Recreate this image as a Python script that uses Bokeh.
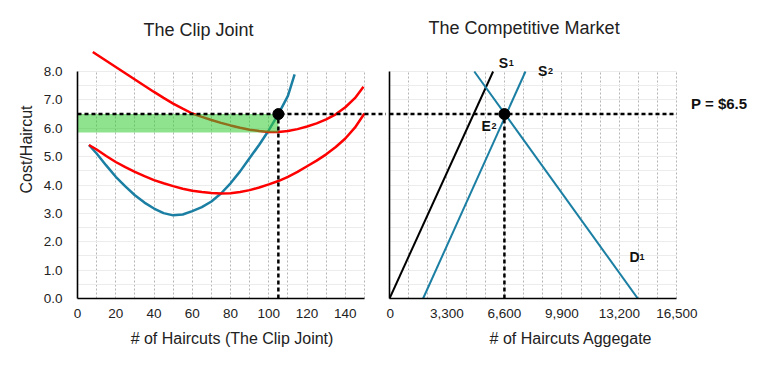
from bokeh.plotting import figure
from bokeh.models import Range1d, FixedTicker, NumeralTickFormatter
from bokeh.layouts import row
from bokeh.embed import file_html
from bokeh.resources import INLINE
from bokeh.core.properties import value

FONT = "Liberation Sans"

# ---------------- data ----------------
# The Clip Joint (firm): marginal cost (blue), two average-cost curves (red)
mc_x = [6, 10, 15, 20, 25, 30, 35, 40, 45, 50, 55, 60, 65, 70, 75, 80, 85, 90,
        95, 100, 105, 110, 113.5]
mc_y = [5.41, 5.11, 4.69, 4.29, 3.95, 3.64, 3.38, 3.17, 3.01, 2.93, 2.96, 3.08,
        3.22, 3.42, 3.70, 4.06, 4.48, 4.95, 5.42, 5.93, 6.50, 7.14, 7.90]

avc_x = [6, 10, 15, 20, 25, 30, 35, 40, 45, 50, 55, 60, 65, 70, 75, 80, 85, 90,
         95, 100, 105, 110, 115, 120, 125, 130, 135, 140, 145, 150]
avc_y = [5.41, 5.25, 5.02, 4.81, 4.63, 4.46, 4.31, 4.17, 4.06, 3.96, 3.87, 3.80,
         3.75, 3.72, 3.70, 3.71, 3.75, 3.82, 3.91, 4.02, 4.14, 4.29, 4.46, 4.66,
         4.86, 5.08, 5.34, 5.64, 6.02, 6.52]

atc_x = [8, 10, 15, 20, 25, 30, 35, 40, 45, 50, 55, 60, 65, 70, 75, 80, 85, 90,
         95, 100, 105, 110, 115, 120, 125, 130, 135, 140, 145, 149.5]
atc_y = [8.69, 8.60, 8.38, 8.16, 7.94, 7.72, 7.50, 7.28, 7.07, 6.87, 6.69, 6.52,
         6.40, 6.29, 6.19, 6.10, 6.02, 5.95, 5.90, 5.87, 5.87, 5.90, 5.97, 6.06,
         6.17, 6.31, 6.49, 6.74, 7.06, 7.46]

price = 6.5
firm_q = 105
atc_at_q = 5.85
market_q = 6600

clip_ticks = [0, 20, 40, 60, 80, 100, 120, 140]
clip_grid_x = [10, 20, 30, 40, 50, 60, 70, 80, 90, 100, 110, 120, 130, 140, 150]
cost_ticks = [0, 1, 2, 3, 4, 5, 6, 7, 8]
cost_grid = [0.5, 1, 1.5, 2, 2.5, 3, 3.5, 4, 4.5, 5, 5.5, 6, 6.5, 7, 7.5, 8]

# The Competitive Market
s1_x = [0, 5950]
s1_y = [0, 8]
s2_x = [1930, 7810]
s2_y = [0, 8]
d1_x = [4870, 14260]
d1_y = [8, 0]

agg_ticks = [0, 3300, 6600, 9900, 13200, 16500]
agg_grid_x = [1100, 2200, 3300, 4400, 5500, 6600, 7700, 8800, 9900, 11000,
              12100, 13200, 14300, 15400, 16500]

label_text = ["S", "S", "E", "D"]
label_sub = ["1", "2", "2", "1"]
label_x = [6277, 8534, 5284, 13784]
label_y = [8.31, 8.02, 6.08, 1.46]

titles = ["The Clip Joint", "The Competitive Market"]

BLUE = "#1b7fa3"
RED = "#ff0000"

# ---------------- layout constants ----------------
PX_PER_COST = 28.375
FRAME_H = 298
Y_TOP = FRAME_H / PX_PER_COST
LEFT_FRAME_W = 309
LEFT_X_END = LEFT_FRAME_W / 1.913
RIGHT_FRAME_W = 363
RIGHT_X_END = RIGHT_FRAME_W / 0.017412


def style_axis(ax, bounds, ticks):
    ax.bounds = bounds
    ax.ticker = FixedTicker(ticks=ticks)
    ax.axis_line_color = "black"
    ax.axis_line_width = 1.6
    ax.major_tick_out = 0
    ax.major_tick_in = 0
    ax.minor_tick_out = 0
    ax.minor_tick_in = 0
    ax.major_label_text_font = FONT
    ax.major_label_text_font_size = "13.5px"
    ax.major_label_text_color = "#222222"
    ax.axis_label_text_font = FONT
    ax.axis_label_text_font_size = "16px"
    ax.axis_label_text_font_style = "normal"
    ax.axis_label_text_color = "#222222"


def style_grids(p, xticks, yticks, xb, yb):
    g = p.xgrid[0]
    g.ticker = FixedTicker(ticks=xticks)
    g.grid_line_color = "#b5b5b5"
    g.grid_line_dash = "2 2"
    g.grid_line_width = 1
    h = p.ygrid[0]
    h.ticker = FixedTicker(ticks=yticks)
    h.grid_line_color = "#ececec"
    h.grid_line_width = 1
    if "cross_bounds" in g.properties():
        g.cross_bounds = yb
        h.cross_bounds = xb


# ---------------- left figure ----------------
left = figure(width=77 + LEFT_FRAME_W, height=FRAME_H + 65, output_backend="svg",
              toolbar_location=None,
              x_range=Range1d(0, LEFT_X_END), y_range=Range1d(0, Y_TOP),
              min_border_left=77, min_border_right=0, min_border_top=0,
              min_border_bottom=65)
left.outline_line_color = None
style_grids(left, clip_grid_x, cost_grid, (0, 150), (0, 8))

style_axis(left.xaxis[0], (0, 150), clip_ticks)
left.xaxis[0].axis_label = "# of Haircuts (The Clip Joint)"
left.xaxis[0].major_label_standoff = 10
left.xaxis[0].axis_label_standoff = 9
style_axis(left.yaxis[0], (0, 8), cost_ticks)
left.yaxis[0].formatter = NumeralTickFormatter(format="0.0")
left.yaxis[0].axis_label = "Cost/Haircut"
left.yaxis[0].major_label_standoff = 15
left.yaxis[0].axis_label_standoff = 6

left.line(mc_x, mc_y, line_color=BLUE, line_width=2.5)
left.line(avc_x, avc_y, line_color=RED, line_width=2.5)
left.line(atc_x, atc_y, line_color=RED, line_width=2.5)
left.quad(left=[0], right=[firm_q], bottom=[atc_at_q], top=[price],
          fill_color="#33cc33", fill_alpha=0.55, line_color=None)
left.line([0, LEFT_X_END], [price, price], line_color="black", line_width=2.5,
          line_dash="4 3")
left.line([firm_q, firm_q], [0, price], line_color="black", line_width=2.5,
          line_dash="4 3")
left.scatter([firm_q], [price], size=11, color="black")
left.text(x=[63.3], y=[9.47], text=[titles[0]], text_font=value(FONT),
          text_font_size="18px", text_align="center", text_baseline="alphabetic",
          text_color="#222222")

# ---------------- right figure ----------------
right = figure(width=3 + RIGHT_FRAME_W, height=FRAME_H + 65, output_backend="svg",
               toolbar_location=None,
               x_range=Range1d(0, RIGHT_X_END), y_range=Range1d(0, Y_TOP),
               min_border_left=3, min_border_right=0, min_border_top=0,
               min_border_bottom=65)
right.outline_line_color = None
style_grids(right, agg_grid_x, cost_grid, (0, 16500), (0, 8))

style_axis(right.xaxis[0], (0, 16500), agg_ticks)
right.xaxis[0].formatter = NumeralTickFormatter(format="0,0")
right.xaxis[0].axis_label = "# of Haircuts Aggegate"
right.xaxis[0].major_label_standoff = 10
right.xaxis[0].axis_label_standoff = 9
style_axis(right.yaxis[0], (0, 8), [])
right.yaxis[0].major_label_standoff = 0

right.line(s1_x, s1_y, line_color="black", line_width=2)
right.line(s2_x, s2_y, line_color=BLUE, line_width=2)
right.line(d1_x, d1_y, line_color=BLUE, line_width=2)
right.line([0, 16500], [price, price], line_color="black", line_width=2.5,
           line_dash="4 3")
right.line([market_q, market_q], [0, price], line_color="black", line_width=2.5,
           line_dash="4 3")
right.scatter([market_q], [price], size=11, color="black")

right.text(x=label_x, y=label_y, text=label_text, text_font=value(FONT),
           text_font_size="14px", text_font_style="bold", text_align="left",
           text_baseline="alphabetic", text_color="#111111")
right.text(x=label_x, y=label_y, text=label_sub, text_font=value(FONT),
           text_font_size="9px", text_font_style="bold", text_align="left",
           text_baseline="alphabetic", text_color="#111111", x_offset=10)
right.text(x=[17320], y=[6.86], text=["P = $6.5"], text_font=value(FONT),
           text_font_size="15px", text_font_style="bold", text_align="left",
           text_baseline="alphabetic", text_color="#111111")
right.text(x=[7730], y=[9.55], text=[titles[1]], text_font=value(FONT),
           text_font_size="18px", text_align="center", text_baseline="alphabetic",
           text_color="#222222")

layout = row(left, right)
open("out.html", "w").write(file_html(layout, INLINE))
